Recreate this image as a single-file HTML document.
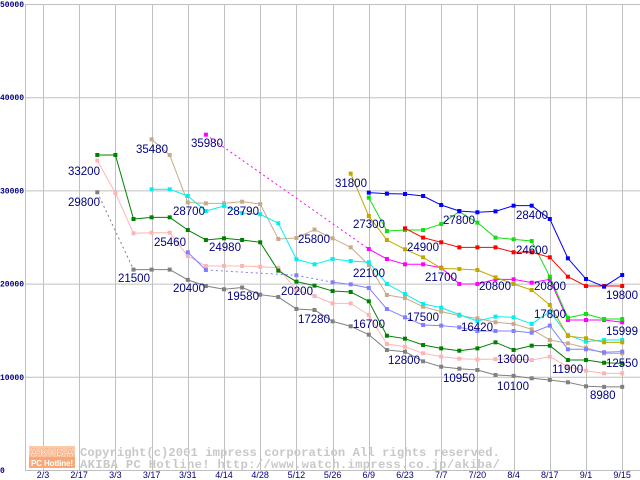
<!DOCTYPE html>
<html><head><meta charset="utf-8"><style>
html,body{margin:0;padding:0;background:#fff;}
svg{display:block;}
.yl{font-family:"Liberation Mono",monospace;font-size:8px;font-weight:bold;fill:#000080;}
.xl{font-family:"Liberation Sans",sans-serif;font-size:9px;fill:#000080;}
.vl{font-family:"Liberation Sans",sans-serif;font-size:11.5px;fill:#000080;}
.cp{font-family:"Liberation Mono",monospace;font-size:12.2px;font-weight:bold;fill:#c8c8c8;}
</style></head><body>
<svg id="chart" width="640" height="480" viewBox="0 0 640 480" xmlns="http://www.w3.org/2000/svg">
<g id="grid"></g>
<g id="wm">
  <rect x="29" y="446" width="46" height="11" fill="#fcc8a8"/>
  <text x="30" y="456" font-family="Liberation Sans,sans-serif" font-size="11" font-weight="bold" fill="#fff" stroke="#f8a070" stroke-width="0.6" textLength="44">AKIBA</text>
  <rect x="29" y="457" width="46" height="11" fill="#f8a878"/>
  <text x="31" y="466" font-family="Liberation Sans,sans-serif" font-size="8" font-weight="bold" fill="#fff" textLength="42">PC Hotline!</text>
  <text class="cp" x="80" y="456" textLength="420">Copyright(c)2001 impress corporation All rights reserved.</text>
  <text class="cp" x="80" y="468" textLength="420">AKIBA PC Hotline!  http://www.watch.impress.co.jp/akiba/</text>
</g>
<g id="axes"></g>
<g id="series"></g>
<g id="labels">
<text class="vl" x="68" y="175">33200</text>
<text class="vl" x="68" y="206">29800</text>
<text class="vl" x="136" y="153">35480</text>
<text class="vl" x="191" y="147">35980</text>
<text class="vl" x="173" y="215">28700</text>
<text class="vl" x="227" y="215">28790</text>
<text class="vl" x="154" y="246">25460</text>
<text class="vl" x="209" y="251">24980</text>
<text class="vl" x="118" y="282">21500</text>
<text class="vl" x="173" y="292">20400</text>
<text class="vl" x="227" y="300">19580</text>
<text class="vl" x="298" y="243">25800</text>
<text class="vl" x="281" y="295">20200</text>
<text class="vl" x="298" y="323">17280</text>
<text class="vl" x="335" y="187">31800</text>
<text class="vl" x="353" y="228">27300</text>
<text class="vl" x="353" y="277">22100</text>
<text class="vl" x="407" y="251">24900</text>
<text class="vl" x="443" y="224">27800</text>
<text class="vl" x="425" y="281">21700</text>
<text class="vl" x="479" y="290">20800</text>
<text class="vl" x="516" y="219">28400</text>
<text class="vl" x="516" y="254">24600</text>
<text class="vl" x="534" y="290">20800</text>
<text class="vl" x="534" y="318">17800</text>
<text class="vl" x="606" y="299">19800</text>
<text class="vl" x="606" y="335">15999</text>
<text class="vl" x="606" y="367">12550</text>
<text class="vl" x="353" y="328">16700</text>
<text class="vl" x="407" y="321">17500</text>
<text class="vl" x="461" y="331">16420</text>
<text class="vl" x="388" y="364">12800</text>
<text class="vl" x="497" y="363">13000</text>
<text class="vl" x="443" y="382">10950</text>
<text class="vl" x="552" y="373">11900</text>
<text class="vl" x="497" y="390">10100</text>
<text class="vl" x="590" y="399">8980</text>
</g>
</svg>
<script>
const xTickLabels = ["2/3","2/17","3/3","3/17","3/31","4/14","4/28","5/12","5/26","6/9","6/23","7/7","7/20","8/4","8/17","9/1","9/15"];
const yTickValues = [0,10000,20000,30000,40000,50000];
const greyStart = 3;
const greyValues = [29800,null,21500,21500,21500,20400,19740,19390,19580,18810,18560,17280,17170,15950,15420,14520,12880,12690,11660,11080,10870,10730,10190,10100,9840,9660,9410,8980,8920,8920];
const pinkStart = 3;
const pinkValues = [33200,29720,25400,25460,25460,22960,21890,21890,21890,21810,21700,19310,18670,17880,17880,16630,13520,13230,12520,12160,11940,11870,11900,11900,11800,12160,11080,10650,10370,10370];
const darkGreenStart = 3;
const darkGreenValues = [33800,33800,26930,27110,27110,25750,24680,24860,24680,24430,21390,20210,19780,19200,19100,18100,14410,14090,13410,13050,12800,13050,13700,12880,13340,13340,11800,11800,11510,11440];
const tanStart = 6;
const tanValues = [35480,33800,28700,28610,28610,28790,28540,24790,24890,25800,24860,23890,22000,18780,18450,17520,16990,16560,16270,15850,15670,15100,13950,13590,13120,12520,12520];
const cyanStart = 6;
const cyanValues = [30120,30120,29400,27790,28330,27580,27440,26470,22610,22070,22640,22420,22290,19960,18880,17810,17420,16670,15990,16450,16380,15670,16990,14480,13770,13950,13950];
const periStart = 8;
const periValues = [23360,21460,null,null,null,null,20890,null,20140,19920,19530,17270,16380,15560,15490,15310,14910,14910,14910,14730,15490,12950,12950,12630,12700];
const magentaStart = 9;
const magentaValues = [35980,null,null,null,null,null,null,null,null,23710,22640,22070,22070,21700,19960,19960,20460,20460,20100,20460,16090,16090,16090,15850];
const oliveStart = 17;
const oliveValues = [31800,27250,24680,23680,22820,21640,21570,21460,20670,19960,19310,17700,14380,14130,13700,13700];
const limeStart = 18;
const limeValues = [29220,25640,25750,25750,26390,27720,26540,24930,24750,24570,20740,16340,16740,16200,16200];
const blueStart = 18;
const blueValues = [29760,29650,29610,29400,28430,27790,27650,27750,28360,28360,26930,22710,20490,19670,20920];
const redStart = 20;
const redValues = [25930,24930,24430,23890,23890,23890,23360,23360,22820,20740,19740,19740,19740];

const NS="http://www.w3.org/2000/svg";
function xPos(i){return 43+18.1*i;}
function yPos(v){return 470-v*466/50000;}
function mk(tag,attrs,parent){const e=document.createElementNS(NS,tag);for(const k in attrs)e.setAttribute(k,attrs[k]);parent.appendChild(e);return e;}
const grid=document.getElementById('grid'), axes=document.getElementById('axes'), ser=document.getElementById('series');
yTickValues.forEach(v=>{
  const l=mk('line',{x1:25,x2:640,y1:yPos(v)+0.5,y2:yPos(v)+0.5,stroke:'#c0c0c0','stroke-width':1},grid);
  
  
  const t=mk('text',{x:v===0?0:0,y:yPos(v)+3,class:'yl'},axes);
  t.textContent=String(v);
  
  
});
const ax=mk('line',{x1:25.5,x2:25.5,y1:4,y2:470,stroke:'#c0c0c0','stroke-width':1},grid);


xTickLabels.forEach((s,k)=>{
  const x=Math.round(xPos(2*k))+0.5;
  const l=mk('line',{x1:x,x2:x,y1:4,y2:470,stroke:'#c0c0c0','stroke-width':1},grid);
  
  
  const t=mk('text',{x:xPos(2*k),y:478,'text-anchor':'middle',class:'xl'},axes);
  t.textContent=s;
  
  
});
function drawSeries(name,start,vals,color){
  const g=mk('g',{},ser);
  
  
  let prev=null, gap=false;
  vals.forEach((v,j)=>{
    if(v===null){gap=true;return;}
    const i=start+j, x=xPos(i), y=yPos(v);
    if(prev){
      const ln=mk('line',{x1:prev[0],y1:prev[1],x2:x,y2:y,stroke:color,'stroke-width':1},g);
      if(gap) ln.setAttribute('stroke-dasharray','2,3');
      
      
    }
    prev=[x,y];gap=false;
  });
  vals.forEach((v,j)=>{
    if(v===null)return;
    const r=mk('rect',{x:xPos(start+j)-2,y:yPos(v)-2,width:4,height:4,fill:color},g);
    
    
  });
}
drawSeries('grey',greyStart,greyValues,'#808080');
drawSeries('pink',pinkStart,pinkValues,'#ffb4b4');
drawSeries('tan',tanStart,tanValues,'#c8aa88');
drawSeries('dark-green',darkGreenStart,darkGreenValues,'#008000');
drawSeries('cyan',cyanStart,cyanValues,'#00f0f0');
drawSeries('periwinkle',periStart,periValues,'#8080ff');
drawSeries('magenta',magentaStart,magentaValues,'#ff00ff');
drawSeries('olive',oliveStart,oliveValues,'#c0a800');
drawSeries('lime',limeStart,limeValues,'#10e010');
drawSeries('red',redStart,redValues,'#ff0000');
drawSeries('blue',blueStart,blueValues,'#0000ff');
document.querySelectorAll('#labels text').forEach(t=>{
  
  
});
</script>
</body></html>
